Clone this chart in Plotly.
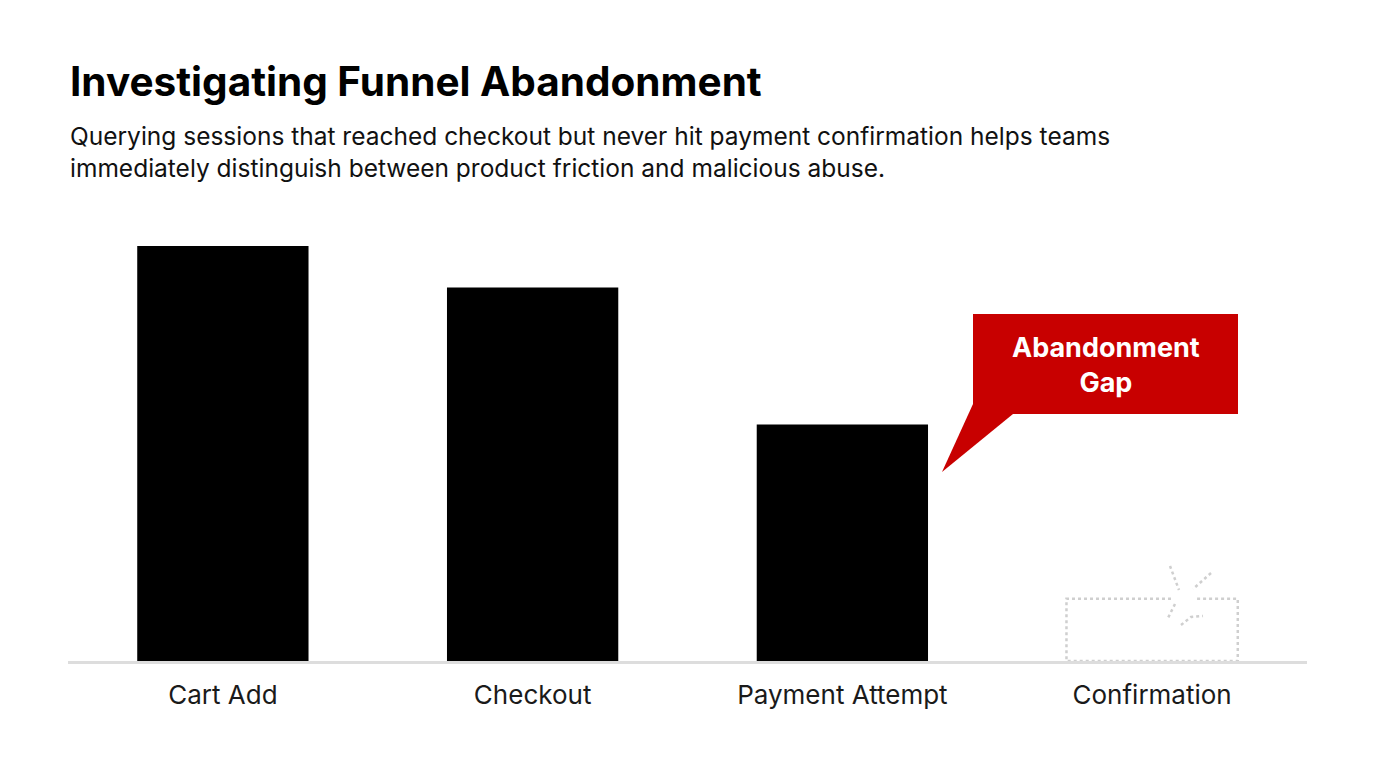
import plotly.graph_objects as go

categories = ["Cart Add", "Checkout", "Payment Attempt", "Confirmation"]
values = [100, 90, 57, 15]

title = "Investigating Funnel Abandonment"
subtitle = ("Querying sessions that reached checkout but never hit payment confirmation helps teams<br>"
            "immediately distinguish between product friction and malicious abuse.")
callout = "Abandonment<br>Gap"

W, H = 1376, 768
OFF = 8  # page body margin
L, R, T, B = 68 - OFF, 69 + OFF, 205 - OFF, 107 + OFF
PX_PER_UNIT = 4.15
plot_h = H - T - B
yr = plot_h / PX_PER_UNIT
n = len(categories)
plot_w = W - L - R

def px2x(px):
    return (px - OFF - L) / plot_w * n - 0.5

def py2y(py):
    return (H - B - (py - OFF)) / PX_PER_UNIT

BAR_W = 0.553
FONT = "Inter, Roboto, Arial, sans-serif"

fig = go.Figure()
fig.add_trace(go.Bar(
    x=list(range(3)), y=values[:3], width=BAR_W,
    marker=dict(color="#000000", line=dict(width=0)),
    hoverinfo="skip",
))

shapes = []
dot = dict(color="#cfcfcf", width=2.5, dash="dot")
cx = 3
x0, x1 = cx - BAR_W / 2, cx + BAR_W / 2
top = values[3]
gap_l, gap_r = px2x(1171), px2x(1197)
shapes.append(dict(type="path", xref="x", yref="y",
                   path=f"M {gap_l} {top} L {x0} {top} L {x0} 0 L {x1} 0 L {x1} {top} L {gap_r} {top}",
                   line=dot))
shapes.append(dict(type="path", xref="x", yref="y",
                   path=f"M {px2x(1170)} {py2y(566)} L {px2x(1179)} {py2y(590)}", line=dot))
shapes.append(dict(type="path", xref="x", yref="y",
                   path=f"M {px2x(1211)} {py2y(573)} L {px2x(1193)} {py2y(589)}", line=dot))
shapes.append(dict(type="path", xref="x", yref="y",
                   path=f"M {px2x(1175)} {py2y(604)} L {px2x(1168)} {py2y(618)}", line=dot))
shapes.append(dict(type="path", xref="x", yref="y",
                   path=f"M {px2x(1181)} {py2y(625)} L {px2x(1191)} {py2y(617)} L {px2x(1203)} {py2y(616)}", line=dot))

red = "#c80000"
shapes.append(dict(type="rect", xref="x", yref="y",
                   x0=px2x(973), x1=px2x(1238), y0=py2y(414), y1=py2y(314),
                   fillcolor=red, line=dict(width=0), layer="above"))
shapes.append(dict(type="path", xref="x", yref="y",
                   path=f"M {px2x(973)} {py2y(404)} L {px2x(942)} {py2y(472)} L {px2x(1013)} {py2y(414)} Z",
                   fillcolor=red, line=dict(width=0), layer="above"))

def paper_x(px):
    return (px - OFF - L) / plot_w

def paper_y(py):
    return (H - B - (py - OFF)) / plot_h

annotations = [
    dict(text=f"<b>{callout}</b>", x=px2x(1105.5), y=py2y(365), xref="x", yref="y",
         showarrow=False, font=dict(family=FONT, size=27, color="#ffffff"),
         align="center", xanchor="center", yanchor="middle"),
    dict(text=f"<b>{title}</b>", x=paper_x(68), y=paper_y(81), xref="paper", yref="paper",
         showarrow=False, font=dict(family=FONT, size=40.5, color="#000000"),
         xanchor="left", yanchor="middle"),
    dict(text=subtitle, x=paper_x(68), y=paper_y(152), xref="paper", yref="paper",
         showarrow=False, font=dict(family=FONT, size=24.5, color="#111111"),
         xanchor="left", yanchor="middle", align="left"),
]

fig.update_layout(
    width=W, height=H,
    margin=dict(l=L, r=R, t=T, b=B),
    paper_bgcolor="#ffffff", plot_bgcolor="#ffffff",
    showlegend=False,
    shapes=shapes, annotations=annotations,
    xaxis=dict(range=[-0.5, n - 0.5], tickmode="array", tickvals=list(range(n)),
               ticktext=categories, showgrid=False, zeroline=False,
               showline=True, linecolor="#dddddd", linewidth=3,
               ticks="outside", ticklen=9, tickcolor="rgba(0,0,0,0)",
               tickfont=dict(family=FONT, size=26, color="#1a1a1a"), fixedrange=True),
    yaxis=dict(range=[0, yr], showgrid=False, zeroline=False, showticklabels=False,
               showline=False, fixedrange=True),
)

fig.write_html("out.html")
